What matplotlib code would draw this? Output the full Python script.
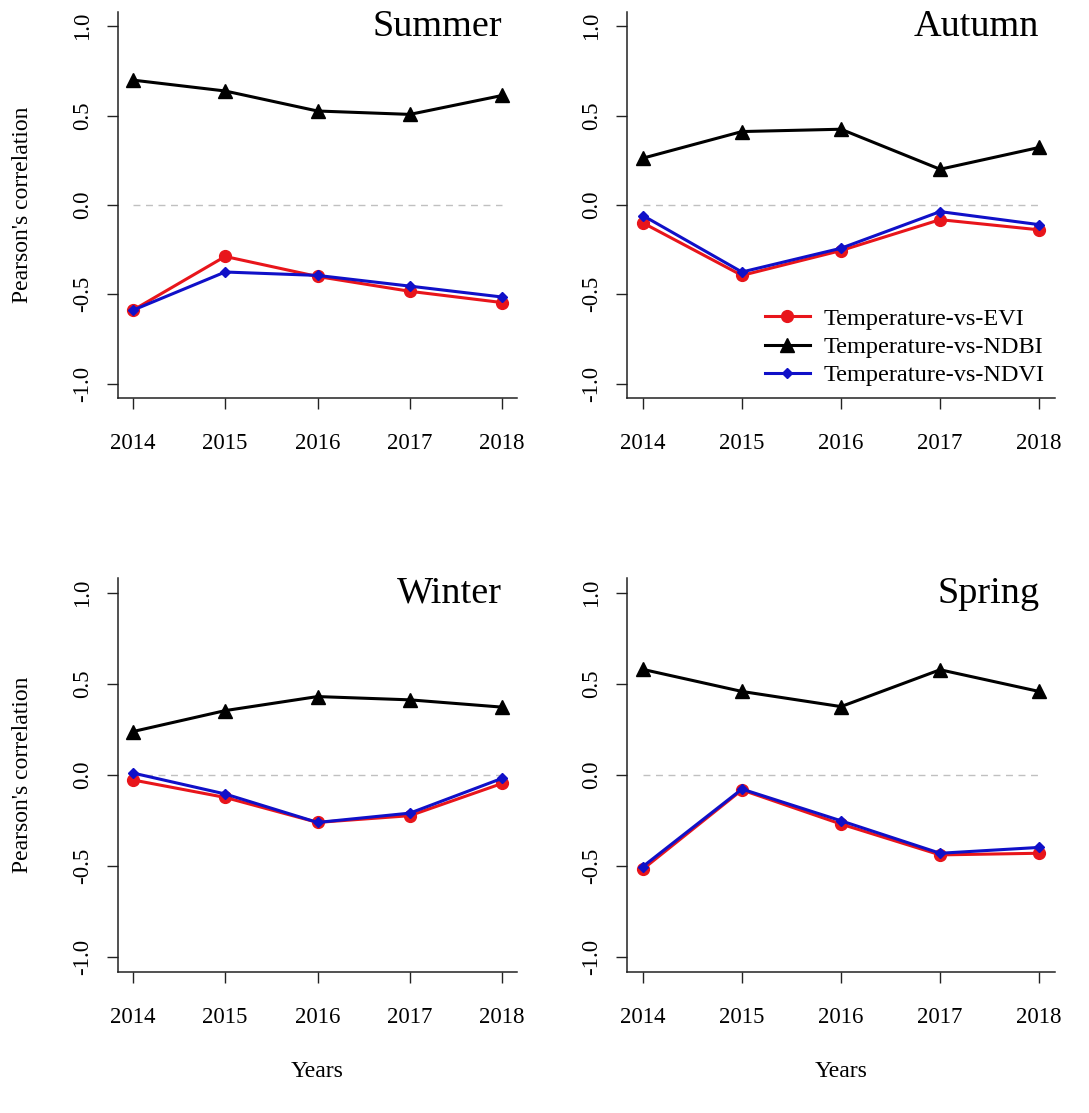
import matplotlib
matplotlib.use("Agg")
import matplotlib.pyplot as plt

plt.rcParams['font.family'] = ['Liberation Serif', 'DejaVu Serif']

# Data
years = [2014, 2015, 2016, 2017, 2018]
seasons = ["Summer", "Autumn", "Winter", "Spring"]

summer_evi = [-0.589, -0.288, -0.400, -0.483, -0.546]
summer_ndbi = [0.699, 0.638, 0.526, 0.507, 0.613]
summer_ndvi = [-0.589, -0.375, -0.394, -0.454, -0.515]

autumn_evi = [-0.100, -0.394, -0.255, -0.082, -0.139]
autumn_ndbi = [0.262, 0.411, 0.424, 0.200, 0.322]
autumn_ndvi = [-0.059, -0.375, -0.242, -0.037, -0.110]

winter_evi = [-0.027, -0.123, -0.260, -0.223, -0.046]
winter_ndbi = [0.238, 0.353, 0.430, 0.412, 0.372]
winter_ndvi = [0.011, -0.104, -0.260, -0.209, -0.018]

spring_evi = [-0.516, -0.082, -0.269, -0.438, -0.429]
spring_ndbi = [0.579, 0.458, 0.375, 0.577, 0.458]
spring_ndvi = [-0.502, -0.077, -0.251, -0.429, -0.397]

yticks = [-1.0, -0.5, 0.0, 0.5, 1.0]
series_labels = ["Temperature-vs-EVI", "Temperature-vs-NDBI", "Temperature-vs-NDVI"]

season_data = {
    "Summer": (summer_evi, summer_ndbi, summer_ndvi),
    "Autumn": (autumn_evi, autumn_ndbi, autumn_ndvi),
    "Winter": (winter_evi, winter_ndbi, winter_ndvi),
    "Spring": (spring_evi, spring_ndbi, spring_ndvi),
}

W, H = 1089, 1113
fig = plt.figure(figsize=[W / 100, H / 100], dpi=100)

# panel boxes in pixels: left, right, top, bottom
boxes = {
    "Summer": (118, 517, 12, 398),
    "Autumn": (627, 1055, 12, 398),
    "Winter": (118, 517, 578, 972),
    "Spring": (627, 1055, 578, 972),
}

for i, season in enumerate(seasons):
    l, r, t, b = boxes[season]
    ax = fig.add_axes([l / W, 1 - b / H, (r - l) / W, (b - t) / H])
    evi, ndbi, ndvi = season_data[season]

    # zero reference line
    ax.plot([years[0], years[-1]], [0, 0], linestyle=(0, (5, 4)), color='#c0c0c0', lw=1)

    ax.plot(years, evi, color='#e8151b', lw=2.2, marker='o', ms=8.5, label=series_labels[0])
    ax.plot(years, ndbi, color='black', lw=2.2, marker='^', ms=10, label=series_labels[1])
    ax.plot(years, ndvi, color='#1010c8', lw=2.2, marker='D', ms=5.5, label=series_labels[2])

    ax.set_xlim(2013.84, 2018.16)
    ax.set_ylim(-1.08, 1.08)
    ax.set_xticks(years)
    ax.set_xticklabels([str(y) for y in years])
    ax.set_yticks(yticks)
    ax.set_yticklabels(["%.1f" % v for v in yticks], rotation=90, va='center')

    for s in ['top', 'right']:
        ax.spines[s].set_visible(False)
    for s in ['left', 'bottom']:
        ax.spines[s].set_linewidth(1.1)
        ax.spines[s].set_color('#222222')
    ax.tick_params(axis='both', direction='out', length=8, width=1, labelsize=16.5, color='#222222')
    ax.tick_params(axis='x', pad=17)
    ax.tick_params(axis='y', pad=10)

    ax.text(2018, 0.995, season, ha='right', va='center', fontsize=27.5)

    if i % 2 == 0:
        ax.set_ylabel("Pearson's correlation", fontsize=17, labelpad=28)
    if i >= 2:
        ax.set_xlabel("Years", fontsize=17, labelpad=24)

    if season == "Autumn":
        ax.legend(loc='center left', bbox_to_anchor=(765 / W, 1 - 347 / H),
                  bbox_transform=fig.transFigure, frameon=False, fontsize=17.5,
                  handlelength=1.85, handletextpad=0.55, labelspacing=0.25,
                  borderpad=0, borderaxespad=0)

fig.savefig("out.png", dpi=100)
